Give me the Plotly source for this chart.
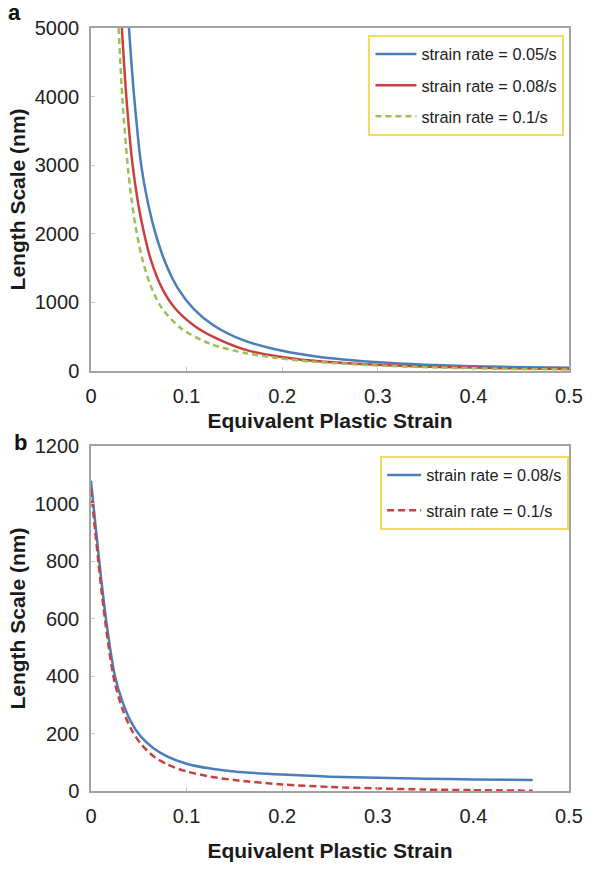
import plotly.graph_objects as go

# ---------------- data: panel a ----------------
a_x_005 = [0.0397, 0.0448, 0.0525, 0.0595, 0.0669, 0.0777, 0.0906, 0.1076, 0.128,
           0.1585, 0.1925, 0.23, 0.264, 0.31, 0.366, 0.43, 0.5]
a_y_005 = [5000, 4050, 3000, 2450, 2030, 1580, 1210, 900, 665,
           450, 314, 220, 165, 118, 82, 58, 43]

a_x_008 = [0.0323, 0.037, 0.0431, 0.0492, 0.055, 0.0628, 0.0736, 0.0872, 0.1076,
           0.128, 0.162, 0.196, 0.23, 0.264, 0.31, 0.366, 0.43, 0.5]
a_y_008 = [5000, 3990, 3050, 2450, 2040, 1610, 1225, 924, 662,
           495, 305, 210, 150, 114, 80, 57, 38, 25]

a_x_01 = [0.0289, 0.0329, 0.039, 0.0424, 0.0465, 0.0533, 0.0618, 0.0736, 0.094,
          0.1245, 0.162, 0.196, 0.23, 0.264, 0.31, 0.366, 0.43, 0.5]
a_y_01 = [5000, 3950, 2910, 2500, 2115, 1650, 1264, 924, 620,
          395, 257, 186, 135, 105, 72, 48, 30, 20]

# ---------------- data: panel b ----------------
b_x = [0, 0.003, 0.008, 0.013, 0.019, 0.025, 0.033, 0.042, 0.052, 0.065,
       0.08, 0.1, 0.125, 0.15, 0.2, 0.25, 0.3, 0.35, 0.4, 0.462]
b_y_008 = [1080, 980, 820, 670, 520, 400, 310, 240, 190, 150,
           120, 95, 78, 68, 57, 50, 46, 43, 40, 38]
b_y_01 = [1050, 950, 790, 640, 490, 375, 285, 215, 165, 122,
          92, 68, 50, 38, 23, 14, 9, 5, 3, 1]

x_ticks = [0, 0.1, 0.2, 0.3, 0.4, 0.5]
x_ticktext = ["0", "0.1", "0.2", "0.3", "0.4", "0.5"]

BLUE = "#4a7ebb"
RED = "#c9403f"
GREEN = "#9bc058"
FONT = "Liberation Sans, Arial, sans-serif"

W, H = 595, 871
ML, MR, MT, MB = 91, 13, 28, 64
PH = H - MT - MB  # plot area height in px
PW = W - ML - MR


def py(px):
    return (H - MB - px) / PH


def pxx(px):
    return (px - ML) / PW


fig = go.Figure()
fig.add_trace(go.Scatter(x=a_x_005, y=a_y_005, mode="lines", name="strain rate = 0.05/s",
                         line=dict(color=BLUE, width=2.5, shape="spline", smoothing=0.8),
                         xaxis="x", yaxis="y", legend="legend", legendgroup="a1"))
fig.add_trace(go.Scatter(x=a_x_008, y=a_y_008, mode="lines", name="strain rate = 0.08/s",
                         line=dict(color=RED, width=2.5, shape="spline", smoothing=0.8),
                         xaxis="x", yaxis="y", legend="legend", legendgroup="a2"))
fig.add_trace(go.Scatter(x=a_x_01, y=a_y_01, mode="lines", name="strain rate = 0.1/s",
                         line=dict(color=GREEN, width=2.5, shape="spline", smoothing=0.8,
                                   dash="6px,4px"),
                         xaxis="x", yaxis="y", legend="legend", legendgroup="a3"))

fig.add_trace(go.Scatter(x=b_x, y=b_y_008, mode="lines", name="strain rate = 0.08/s",
                         line=dict(color=BLUE, width=2.5, shape="spline", smoothing=0.8),
                         xaxis="x2", yaxis="y2", legend="legend2", legendgroup="b1"))
fig.add_trace(go.Scatter(x=b_x, y=b_y_01, mode="lines", name="strain rate = 0.1/s",
                         line=dict(color=RED, width=2.5, shape="spline", smoothing=0.8,
                                   dash="7px,4px"),
                         xaxis="x2", yaxis="y2", legend="legend2", legendgroup="b2"))

axis_common = dict(showline=True, linecolor="#a3a3a3", linewidth=1.5, mirror=True,
                   showgrid=False, zeroline=False, ticks="inside", ticklen=4,
                   tickcolor="#cccccc", tickwidth=1,
                   tickfont=dict(family=FONT, size=20, color="#222"))
title_font = dict(family=FONT, size=21, color="#1a1a1a")

top_a, bot_a = 28, 378
top_b, bot_b = 455, 807

fig.update_layout(
    width=W, height=H,
    margin=dict(l=ML, r=MR, t=MT, b=MB),
    paper_bgcolor="white", plot_bgcolor="white",
    font=dict(family=FONT, color="#222"),
    xaxis=dict(axis_common, domain=[0, 1], anchor="y", range=[0, 0.5],
               tickvals=x_ticks, ticktext=x_ticktext, ticklabelstandoff=6,
               title=dict(text="<b>Equivalent Plastic Strain</b>", font=title_font, standoff=8)),
    yaxis=dict(axis_common, domain=[py(bot_a), py(top_a)], anchor="x", range=[0, 5000],
               tickvals=[0, 1000, 2000, 3000, 4000, 5000],
               ticktext=["0", "1000", "2000", "3000", "4000", "5000"], ticklabelstandoff=6,
               title=dict(text="<b>Length Scale (nm)</b>", font=title_font, standoff=3)),
    xaxis2=dict(axis_common, domain=[0, 1], anchor="y2", range=[0, 0.5],
                tickvals=x_ticks, ticktext=x_ticktext, ticklabelstandoff=6,
                title=dict(text="<b>Equivalent Plastic Strain</b>", font=title_font, standoff=18)),
    yaxis2=dict(axis_common, domain=[py(bot_b), py(top_b)], anchor="x2", range=[0, 1200],
                tickvals=[0, 200, 400, 600, 800, 1000, 1200],
                ticktext=["0", "200", "400", "600", "800", "1000", "1200"], ticklabelstandoff=6,
                title=dict(text="<b>Length Scale (nm)</b>", font=title_font, standoff=3)),
    legend=dict(x=pxx(376), y=py(35), xanchor="left", yanchor="top",
                bordercolor="#f0dc60", borderwidth=2, bgcolor="white",
                font=dict(family=FONT, size=16.3, color="#222"),
                itemwidth=41,
                traceorder="grouped", tracegroupgap=7),
    legend2=dict(x=pxx(388), y=py(465), xanchor="left", yanchor="top",
                 bordercolor="#f0dc60", borderwidth=2, bgcolor="white",
                 font=dict(family=FONT, size=16.3, color="#222"),
                 itemwidth=34,
                 traceorder="grouped", tracegroupgap=11),
    showlegend=True,
    annotations=[
        dict(text="<b>a</b>", x=pxx(12.5), y=py(12), xref="paper", yref="paper",
             showarrow=False, font=dict(family=FONT, size=22, color="#111"),
             xanchor="center", yanchor="middle"),
        dict(text="<b>b</b>", x=pxx(19), y=py(451), xref="paper", yref="paper",
             showarrow=False, font=dict(family=FONT, size=22, color="#111"),
             xanchor="center", yanchor="middle"),
    ],
)

fig.write_html("out.html")
